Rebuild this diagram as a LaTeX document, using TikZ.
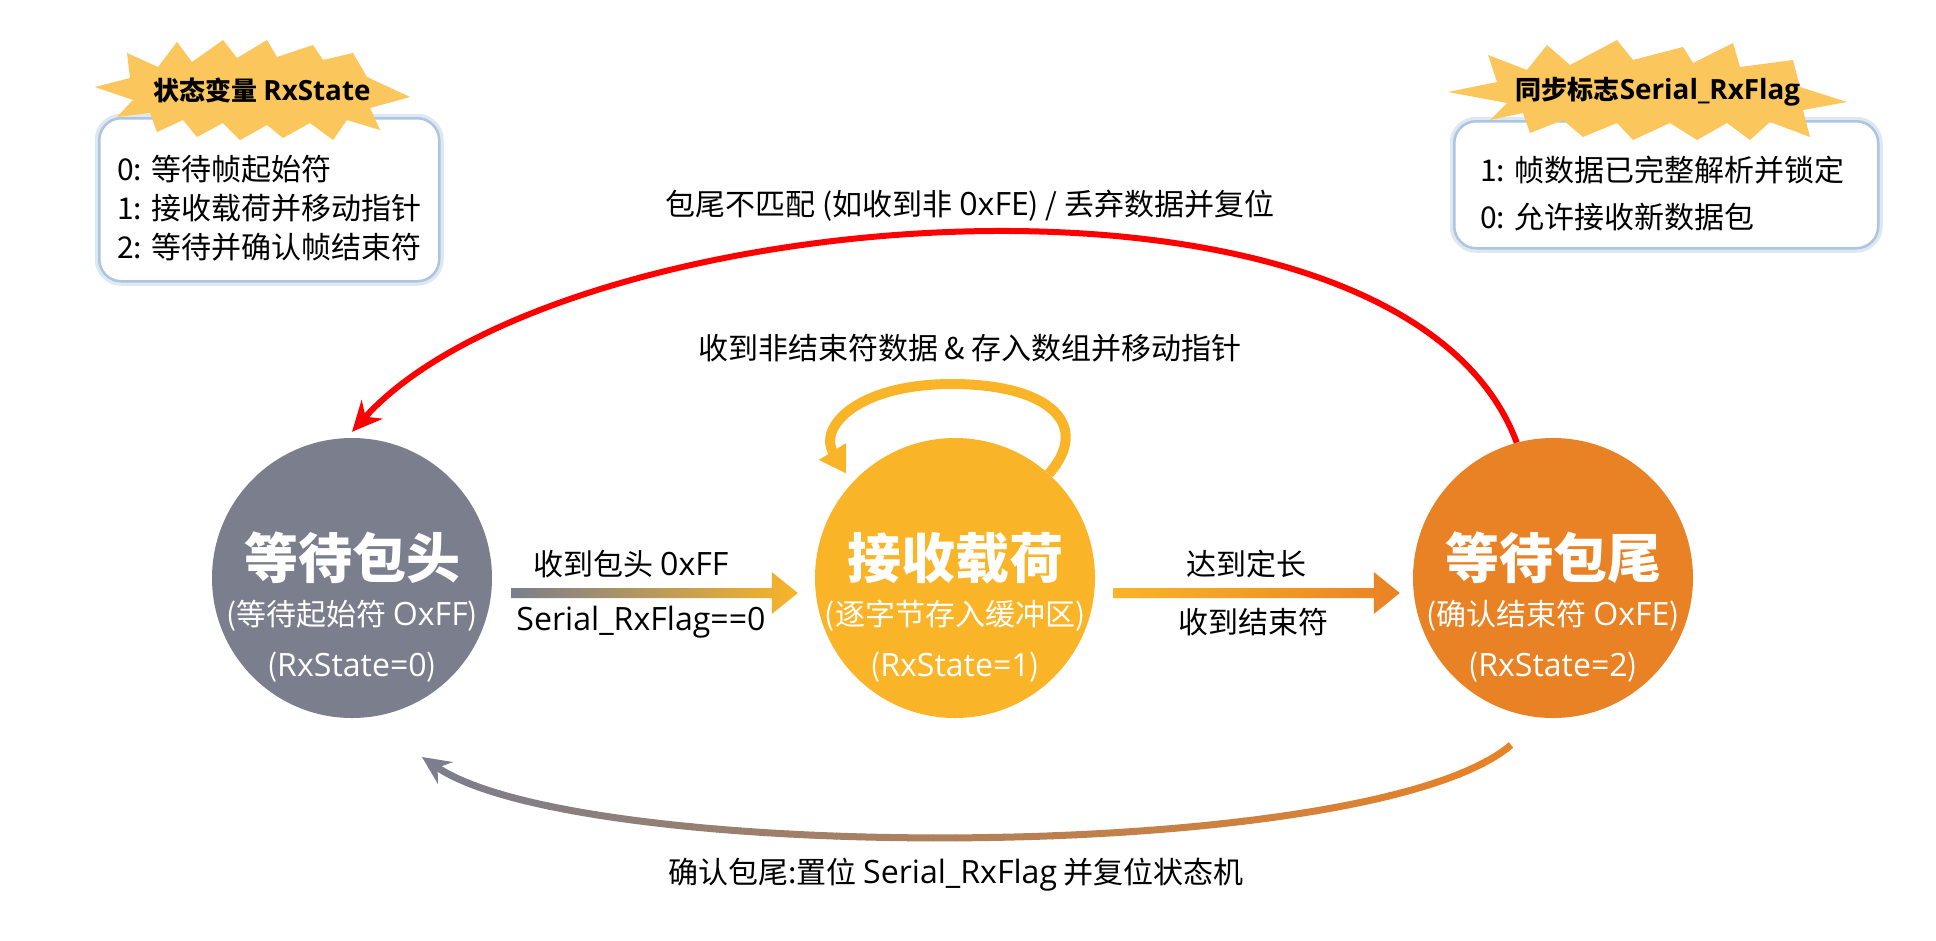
\documentclass[tikz,border=0pt]{standalone}
\usepackage{fontspec}
\setmainfont{Noto Sans CJK SC}
\newfontfamily\lat{Open Sans}[Scale=1.07]
\usetikzlibrary{arrows.meta,calc}
\definecolor{cgray}{RGB}{123,126,141}
\definecolor{cyel}{RGB}{249,180,40}
\definecolor{corange}{RGB}{233,130,37}
\definecolor{cburst}{RGB}{251,198,92}
\definecolor{cbox}{RGB}{172,198,224}
\definecolor{cboxo}{RGB}{222,232,243}
\begin{document}
\begin{tikzpicture}[x=1pt,y=-1pt,
 state/.style={circle,minimum size=280pt,inner sep=0pt,draw=none},
 title/.style={text=white,font=\fontsize{54}{60}\selectfont\bfseries,inner sep=0pt},
 sub/.style={text=white,font=\fontsize{30}{36}\selectfont,inner sep=0pt},
 lbl/.style={text=black,font=\fontsize{30}{36}\selectfont,inner sep=0pt},
 boxtxt/.style={text=black,font=\fontsize{30}{36}\selectfont,inner sep=0pt,anchor=west},
 bursttxt/.style={text=black,font=\fontsize{26}{30}\selectfont\bfseries,inner sep=0pt},
 burst/.style={fill=cburst,draw=none},
 infobox/.style={fill=white,draw=cbox,line width=2.5pt,rounded corners=22pt,anchor=north west,inner sep=0pt,
   preaction={draw=cboxo,line width=9pt}},
]
\useasboundingbox (0,0) rectangle (1936,940);
\fill[white] (0,0) rectangle (1936,940);

% info boxes
\node[infobox,minimum width=340pt,minimum height=163pt] (box1) at (98,117) {};
\node[infobox,minimum width=424pt,minimum height=127pt] (box2) at (1453,120) {};

% bursts
\fill[burst] (95,87) -- (130,78) -- (127,53) -- (158,67) -- (177,42) -- (192,62) -- (223,40) -- (237,58)
 -- (267,40) -- (277,57) -- (313,45) -- (323,60) -- (353,53) -- (367,77) -- (410,97) -- (370,108)
 -- (380,130) -- (347,120) -- (333,140) -- (310,123) -- (283,138) -- (267,125) -- (240,140) -- (223,123)
 -- (197,137) -- (183,120) -- (157,132) -- (150,113) -- (117,117) -- (133,100) -- cycle;
\fill[burst] (1448,92) -- (1497,82) -- (1488,55) -- (1527,70) -- (1547,45) -- (1570,65) -- (1617,40) -- (1633,60)
 -- (1683,47) -- (1693,63) -- (1733,43) -- (1740,67) -- (1793,60) -- (1800,87) -- (1847,102) -- (1803,110)
 -- (1810,137) -- (1770,122) -- (1750,140) -- (1727,123) -- (1697,140) -- (1670,123) -- (1633,140) -- (1617,123)
 -- (1583,137) -- (1563,120) -- (1530,133) -- (1523,113) -- (1490,120) -- (1507,103) -- cycle;

\node[bursttxt] (b1t) at (262,90) {状态变量 {\lat RxState}};
\node[bursttxt] (b2t) at (1658,92) {同步标志{\lat Serial\_RxFlag}};

\node[boxtxt] (b1a) at (117,169) {0: 等待帧起始符};
\node[boxtxt] (b1b) at (117,208) {1: 接收载荷并移动指针};
\node[boxtxt] (b1c) at (117,247) {2: 等待并确认帧结束符};
\node[boxtxt] (b2a) at (1480,170) {1: 帧数据已完整解析并锁定};
\node[boxtxt] (b2b) at (1480,217) {0: 允许接收新数据包};

% states
\node[state,fill=cgray] (wh) at (352,578) {};
\node[state,fill=cyel] (rp) at (955,578) {};
\node[state,fill=corange] (wt) at (1553,578) {};

\node[title] (wh-t) at ($(wh)+(0,-20)$) {等待包头};
\node[sub] (wh-s) at ($(wh)+(0,38)$) {(等待起始符 {\lat OxFF})};
\node[sub] (wh-r) at ($(wh)+(0,89)$) {({\lat RxState=0})};
\node[title] (rp-t) at ($(rp)+(0,-20)$) {接收载荷};
\node[sub] (rp-s) at ($(rp)+(0,38)$) {(逐字节存入缓冲区)};
\node[sub] (rp-r) at ($(rp)+(0,89)$) {({\lat RxState=1})};
\node[title] (wt-t) at ($(wt)+(0,-20)$) {等待包尾};
\node[sub] (wt-s) at ($(wt)+(0,38)$) {(确认结束符 {\lat OxFE})};
\node[sub] (wt-r) at ($(wt)+(0,89)$) {({\lat RxState=2})};

% block arrows
\coordinate (a1s) at ($(wh.east)+(19,15)$);
\coordinate (a1e) at ($(rp.west)+(-17,15)$);
\shade[left color=cgray,right color=cyel] ($(a1s)+(0,-5)$) -- ($(a1e)+(-26,-5)$) -- ($(a1e)+(-26,-21)$) -- (a1e)
  -- ($(a1e)+(-26,21)$) -- ($(a1e)+(-26,5)$) -- ($(a1s)+(0,5)$) -- cycle;
\coordinate (a2s) at ($(rp.east)+(18,15)$);
\coordinate (a2e) at ($(wt.west)+(-13,15)$);
\shade[left color=cyel,right color=corange] ($(a2s)+(0,-5)$) -- ($(a2e)+(-26,-5)$) -- ($(a2e)+(-26,-21)$) -- (a2e)
  -- ($(a2e)+(-26,21)$) -- ($(a2e)+(-26,5)$) -- ($(a2s)+(0,5)$) -- cycle;

% self loop
\coordinate (lt) at (952,384);
\draw[cyel,line width=10pt,-{Triangle[length=26pt,width=30pt]}] (rp.48) .. controls (1092,425) and (1050,384) .. (lt)
  .. controls (856,384) and (818,428) .. ($(rp.136)+(-8,-7)$);

% red arc
\draw[red,line width=6pt,-{Stealth[length=30pt,width=28pt]}] (wt.105) .. controls (1400,130) and (560,200) .. ($(wh.north)+(0,-6)$);

% bottom gradient arc
\coordinate (bs) at ($(wt.center)+(-42,167)$);
\coordinate (be) at ($(wh.center)+(70,179)$);
\foreach \i in {0,...,47} {
  \pgfmathsetmacro{\xa}{380+\i*24}
  \pgfmathsetmacro{\xb}{\xa+24.8}
  \pgfmathsetmacro{\p}{max(0,min(100,(\xa+12-430)/10.8))}
  \begin{scope}
    \clip (\xa,690) rectangle (\xb,900);
    \draw[corange!\p!cgray,line width=7pt,-{Stealth[length=28pt,width=26pt]}] (bs) .. controls (1370,865) and (580,865) .. (be);
  \end{scope}
}

% labels
\node[lbl] (l-top) at (970,206) {包尾不匹配 (如收到非 {\lat 0xFE}) / 丢弃数据并复位};
\node[lbl] (l-loop) at (970,348) {收到非结束符数据 \& 存入数组并移动指针};
\node[lbl] (l-a1a) at (631,564) {收到包头 {\lat 0xFF}};
\node[lbl] (l-a1b) at (641,622) {{\lat Serial\_RxFlag==0}};
\node[lbl] (l-a2a) at (1246,564) {达到定长};
\node[lbl] (l-a2b) at (1253,622) {收到结束符};
\node[lbl] (l-bot) at (956,875) {确认包尾:置位 {\lat Serial\_RxFlag} 并复位状态机};
\end{tikzpicture}
\end{document}
